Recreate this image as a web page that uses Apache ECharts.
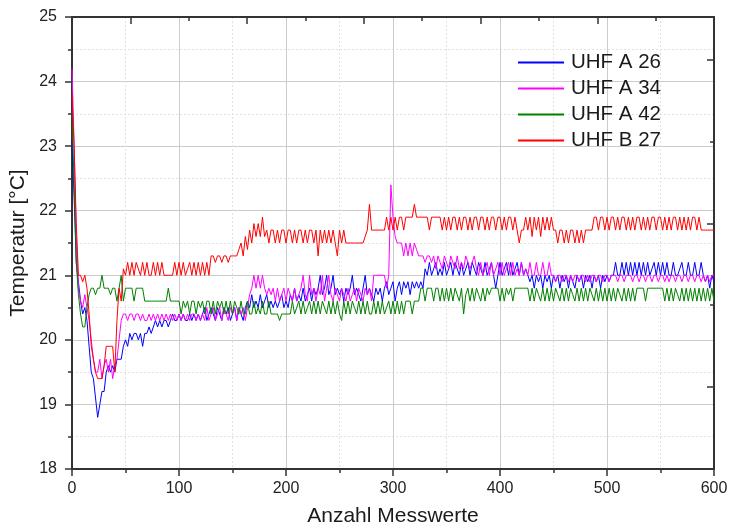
<!DOCTYPE html>
<html>
<head>
<meta charset="utf-8">
<script src="https://cdn.jsdelivr.net/npm/echarts@6/dist/echarts.min.js"></script>
<style>
  html, body { margin: 0; padding: 0; background: #fff; }
  #chart { width: 730px; height: 526px; }
</style>
</head>
<body>
<div id="chart"></div>
<script>
// readings, one value every 2nd measurement (x = 0, 2, 4 ... 600)
var uhfA26 = [
  23.1,22.2,21.2,20.9,20.6,20.4,20.5,20.3,19.9,19.5,19.4,19.1,18.8,19.0,19.2,19.2,19.5,19.6,19.5,19.6,19.5,19.7,19.7,19.7,19.9,
  20.0,19.9,20.1,20.0,20.1,20.1,20.0,20.1,19.9,20.1,20.1,20.2,20.1,20.2,20.3,20.2,20.3,20.2,20.3,20.3,20.2,20.3,20.4,20.3,20.3,
  20.4,20.3,20.4,20.3,20.3,20.4,20.3,20.4,20.3,20.4,20.3,20.4,20.5,20.3,20.4,20.5,20.4,20.3,20.5,20.4,20.3,20.5,20.4,20.5,20.3,
  20.4,20.5,20.3,20.5,20.4,20.3,20.5,20.6,20.5,20.7,20.5,20.6,20.5,20.7,20.5,20.6,20.7,20.5,20.6,20.5,20.6,20.5,20.6,20.7,20.5,
  20.6,20.5,20.7,20.6,20.8,20.6,20.7,20.6,20.8,20.6,20.7,20.8,20.6,20.8,20.7,20.8,21.0,20.7,20.8,21.0,20.7,20.8,21.0,20.7,20.8,
  20.7,20.8,20.6,20.8,20.7,20.8,21.0,20.7,20.8,20.7,20.6,20.8,21.0,20.7,20.8,20.7,20.6,20.8,20.7,20.8,20.6,20.8,20.9,20.7,20.8,
  20.9,20.6,20.8,20.9,20.7,20.9,20.8,20.9,20.7,20.9,20.8,20.9,20.8,20.9,20.8,21.1,21.0,21.2,21.0,21.1,21.2,21.0,21.1,21.0,21.2,
  21.0,21.1,21.2,21.0,21.2,21.1,21.0,21.2,21.0,21.1,21.2,21.0,21.2,21.1,21.0,21.2,21.1,21.0,21.2,21.0,21.1,21.2,21.0,20.8,21.0,
  21.2,21.0,21.1,21.2,21.0,21.2,21.0,21.1,21.2,21.0,21.2,21.0,21.1,21.0,20.9,21.0,20.8,21.0,20.9,21.0,20.8,21.0,20.9,21.0,20.8,
  21.0,20.9,21.0,20.8,21.0,20.9,21.0,20.8,21.0,20.9,20.8,21.0,20.9,21.0,20.8,21.0,20.9,21.0,20.8,21.0,20.9,21.0,20.8,21.0,20.9,
  21.0,20.9,21.0,21.0,21.2,21.0,21.0,21.2,21.0,21.2,21.0,21.2,21.0,21.2,21.0,21.2,21.0,21.2,21.0,21.2,21.0,21.1,21.2,21.0,21.2,
  21.0,21.2,21.0,21.2,21.0,21.0,21.2,21.0,21.0,21.1,21.2,21.0,21.0,21.2,21.0,21.0,21.2,21.0,21.0,21.2,21.0,20.9,21.0,20.8,21.0,
  20.9
];

var uhfA34 = [
  24.2,23.0,21.6,20.8,20.6,20.5,20.7,20.5,20.3,20.0,19.7,19.5,19.5,19.7,19.4,19.6,19.7,19.5,19.7,19.4,19.6,19.7,20.0,20.3,20.4,
  20.4,20.3,20.4,20.4,20.3,20.4,20.4,20.3,20.4,20.3,20.3,20.4,20.3,20.4,20.3,20.4,20.3,20.4,20.3,20.4,20.3,20.4,20.3,20.4,20.3,
  20.4,20.3,20.4,20.3,20.4,20.3,20.4,20.4,20.3,20.4,20.3,20.4,20.3,20.5,20.3,20.4,20.5,20.3,20.4,20.5,20.3,20.5,20.4,20.3,20.5,
  20.4,20.5,20.3,20.5,20.4,20.5,20.3,20.5,20.7,20.8,21.0,20.8,21.0,20.8,21.0,20.8,20.7,20.8,20.7,20.8,20.6,20.8,20.6,20.7,20.8,
  20.6,20.8,20.7,20.6,20.8,20.6,20.7,20.8,21.0,20.7,20.6,21.0,20.7,20.8,20.6,20.8,20.7,21.0,20.6,20.8,21.0,20.7,20.6,20.8,20.7,
  20.6,20.8,20.7,20.6,20.8,20.6,20.7,20.8,20.6,20.8,20.7,20.6,20.8,20.7,20.8,20.6,21.0,21.0,21.0,21.0,21.0,21.0,20.8,21.0,22.4,
  21.9,21.6,21.5,21.5,21.5,21.3,21.5,21.3,21.5,21.3,21.5,21.4,21.3,21.3,21.3,21.2,21.3,21.3,21.2,21.3,21.1,21.3,21.2,21.1,21.3,
  21.2,21.1,21.3,21.2,21.1,21.3,21.1,21.2,21.1,21.3,21.2,21.1,21.2,21.3,21.1,21.0,21.2,21.0,21.1,21.2,21.0,21.2,21.0,21.1,21.2,
  21.0,21.2,21.0,21.1,21.2,21.0,21.2,21.0,21.1,21.0,21.2,21.0,21.1,21.0,21.2,21.0,21.0,21.2,21.0,21.0,21.2,21.0,21.0,21.2,21.0,
  21.0,20.9,21.0,21.0,20.9,21.0,21.0,20.9,21.0,20.9,21.0,21.0,20.9,21.0,21.0,20.9,21.0,20.9,21.0,21.0,20.9,21.0,21.0,20.9,21.0,
  21.0,20.9,21.0,21.0,21.0,20.9,21.0,21.0,20.9,21.0,21.0,21.0,20.9,21.0,21.0,20.9,21.0,21.0,20.9,21.0,21.0,20.9,21.0,21.0,20.9,
  21.0,21.0,20.9,21.0,20.9,21.0,21.0,20.9,21.0,21.0,20.9,21.0,21.0,20.9,21.0,21.0,20.9,21.0,21.0,20.9,21.0,20.9,21.0,20.9,21.0,
  21.0
];

var uhfA42 = [
  23.5,22.4,21.2,20.7,20.4,20.2,20.2,20.5,20.7,20.8,20.8,20.7,20.8,20.8,21.0,20.8,20.8,20.8,20.7,20.8,20.8,20.6,20.8,21.0,20.6,
  20.8,20.8,20.8,20.8,20.6,20.8,20.8,20.8,20.8,20.6,20.6,20.6,20.6,20.6,20.6,20.6,20.6,20.6,20.6,20.6,20.8,20.6,20.6,20.6,20.6,
  20.6,20.4,20.6,20.5,20.6,20.4,20.6,20.6,20.4,20.6,20.5,20.6,20.4,20.6,20.6,20.4,20.6,20.4,20.6,20.5,20.6,20.4,20.6,20.4,20.6,
  20.4,20.6,20.5,20.4,20.6,20.4,20.4,20.6,20.4,20.4,20.6,20.4,20.5,20.4,20.6,20.4,20.4,20.6,20.4,20.4,20.4,20.4,20.3,20.4,20.4,
  20.4,20.4,20.4,20.6,20.4,20.5,20.6,20.4,20.6,20.4,20.5,20.6,20.4,20.6,20.4,20.6,20.4,20.6,20.5,20.4,20.6,20.4,20.6,20.4,20.6,
  20.4,20.3,20.6,20.4,20.6,20.4,20.6,20.5,20.4,20.6,20.4,20.6,20.4,20.6,20.4,20.4,20.6,20.4,20.6,20.4,20.6,20.4,20.5,20.6,20.4,
  20.6,20.4,20.6,20.4,20.6,20.4,20.6,20.6,20.6,20.4,20.6,20.6,20.6,20.8,20.8,20.6,20.8,20.8,20.8,20.6,20.8,20.8,20.6,20.8,20.6,
  20.8,20.6,20.8,20.6,20.8,20.7,20.6,20.8,20.4,20.7,20.8,20.6,20.8,20.6,20.8,20.7,20.6,20.8,20.6,20.8,20.7,20.8,20.8,20.8,20.8,
  20.6,20.8,20.6,20.8,20.7,20.8,20.6,20.8,20.8,20.8,20.8,20.8,20.8,20.8,20.6,20.8,20.6,20.8,20.7,20.6,20.8,20.6,20.8,20.6,20.8,
  20.6,20.8,20.7,20.6,20.8,20.6,20.8,20.6,20.8,20.7,20.6,20.8,20.6,20.8,20.6,20.8,20.6,20.8,20.7,20.6,20.8,20.6,20.8,20.6,20.8,
  20.6,20.8,20.6,20.8,20.6,20.8,20.7,20.6,20.8,20.6,20.8,20.6,20.8,20.6,20.8,20.8,20.8,20.8,20.6,20.8,20.8,20.8,20.8,20.8,20.8,
  20.8,20.8,20.6,20.8,20.6,20.8,20.6,20.8,20.7,20.6,20.8,20.6,20.8,20.6,20.8,20.6,20.8,20.6,20.8,20.6,20.8,20.6,20.8,20.6,20.8,
  20.6
];

var uhfB27 = [
  23.8,23.0,21.8,21.0,21.0,20.9,21.0,20.8,20.4,19.9,19.7,19.5,19.4,19.4,19.4,19.6,19.9,19.9,19.9,19.9,19.5,20.3,20.8,20.6,21.1,
  21.0,21.2,21.0,21.2,21.0,21.2,21.1,21.0,21.2,21.0,21.2,21.0,21.0,21.2,21.0,21.2,21.0,21.2,21.0,21.0,21.0,21.0,21.0,21.2,21.0,
  21.2,21.0,21.2,21.0,21.1,21.2,21.0,21.2,21.0,21.2,21.0,21.2,21.0,21.2,21.0,21.3,21.3,21.2,21.3,21.3,21.2,21.3,21.3,21.2,21.3,
  21.3,21.3,21.3,21.4,21.5,21.3,21.6,21.4,21.7,21.5,21.8,21.6,21.8,21.6,21.9,21.6,21.7,21.5,21.7,21.7,21.5,21.7,21.5,21.7,21.7,
  21.5,21.7,21.7,21.5,21.7,21.5,21.7,21.7,21.5,21.7,21.5,21.7,21.7,21.5,21.7,21.3,21.7,21.5,21.7,21.5,21.7,21.5,21.7,21.5,21.3,
  21.7,21.5,21.7,21.5,21.5,21.5,21.5,21.5,21.5,21.5,21.5,21.5,21.6,21.7,22.1,21.7,21.7,21.7,21.7,21.7,21.7,21.7,21.9,21.7,21.9,
  21.7,21.9,21.7,21.9,21.9,21.7,21.9,21.9,21.9,21.9,22.1,21.9,21.9,21.9,21.9,21.9,21.9,21.7,21.9,21.9,21.9,21.9,21.9,21.7,21.9,
  21.7,21.9,21.7,21.9,21.9,21.7,21.9,21.7,21.9,21.9,21.7,21.9,21.7,21.9,21.9,21.7,21.9,21.9,21.7,21.9,21.7,21.9,21.9,21.7,21.9,
  21.9,21.7,21.9,21.7,21.9,21.9,21.7,21.9,21.7,21.5,21.7,21.7,21.9,21.7,21.9,21.6,21.9,21.7,21.9,21.6,21.9,21.7,21.9,21.7,21.9,
  21.7,21.7,21.5,21.7,21.7,21.5,21.7,21.5,21.7,21.7,21.5,21.7,21.5,21.7,21.5,21.7,21.7,21.7,21.7,21.9,21.9,21.7,21.9,21.9,21.7,
  21.9,21.7,21.9,21.9,21.7,21.9,21.7,21.9,21.9,21.7,21.9,21.7,21.9,21.7,21.9,21.9,21.7,21.9,21.7,21.9,21.7,21.9,21.9,21.7,21.9,
  21.9,21.7,21.9,21.7,21.9,21.7,21.9,21.9,21.7,21.9,21.7,21.9,21.7,21.9,21.7,21.9,21.9,21.7,21.9,21.7,21.7,21.7,21.7,21.7,21.7,
  21.7
];

var seriesNames = ['UHF A 26', 'UHF A 34', 'UHF A 42', 'UHF B 27'];
var seriesColors = ['#0000ff', '#ff00ff', '#008000', '#ff0000'];
var STEP = 2;

var FONT = '"Liberation Sans", Arial, sans-serif';
var AXIS_COLOR = '#333';

function toPoints(values) {
	var pts = [];
	for (var i = 0; i < values.length; i++) {
		pts.push([i * STEP, values[i]]);
	}
	return pts;
}

// mirror axis on top / right, only for the frame and inner ticks
function mirrorAxis(pos, max, ticks, len, showLine) {
	return {
		type: 'value', position: pos, min: 0, max: max,
		axisLine: { show: showLine, onZero: false, lineStyle: { color: AXIS_COLOR, width: 2 } },
		axisTick: { show: true, inside: true, length: len, customValues: ticks,
			lineStyle: { color: AXIS_COLOR, width: 1.5 } },
		axisLabel: { show: false },
		splitLine: { show: false }
	};
}

var chart = echarts.init(document.getElementById('chart'));

var lines = [uhfA26, uhfA34, uhfA42, uhfB27].map(function(values, k) {
	return {
		name: seriesNames[k],
		type: 'line',
		data: toPoints(values),
		xAxisIndex: 0,
		yAxisIndex: 0,
		symbol: 'none',
		color: seriesColors[k],
		lineStyle: { width: 1, color: seriesColors[k] }
	};
});

var option = {
	animation: false,
	backgroundColor: '#fff',
	textStyle: { fontFamily: FONT },
	grid: { left: 72, top: 17, right: 16, bottom: 57, containLabel: false, outerBoundsMode: 'none' },
	legend: {
		orient: 'vertical',
		left: 518, top: 52,
		padding: 0,
		icon: 'rect',
		itemWidth: 46, itemHeight: 2, itemGap: 5,
		textStyle: { fontSize: 20.5, color: '#1a1a1a', lineHeight: 20, fontFamily: FONT, padding: [0, 0, 0, 2] },
		data: seriesNames
	},
	xAxis: [{
		type: 'value', position: 'bottom', min: 0, max: 600, interval: 100,
		name: 'Anzahl Messwerte', nameLocation: 'middle', nameGap: 37,
		nameTextStyle: { fontSize: 21, color: '#1a1a1a', fontFamily: FONT },
		axisLine: { show: true, onZero: false, lineStyle: { color: AXIS_COLOR, width: 2 } },
		axisTick: { show: true, length: 7, lineStyle: { color: AXIS_COLOR, width: 1.5 } },
		minorTick: { show: true, splitNumber: 2, length: 4, lineStyle: { color: AXIS_COLOR, width: 1.5 } },
		axisLabel: { fontSize: 16, color: '#222', margin: 12, fontFamily: FONT },
		splitLine: { show: true, lineStyle: { color: '#cccccc', width: 1 } },
		minorSplitLine: { show: true, lineStyle: { color: '#e2e2e2', width: 1, type: [2, 2] } }
	},
		mirrorAxis('top', 11, [1, 3, 5, 7, 9], 7, true),
		mirrorAxis('top', 11, [2, 4, 6, 8, 10], 4, false)
	],
	yAxis: [{
		type: 'value', position: 'left', min: 18, max: 25, interval: 1,
		name: 'Temperatur [°C]', nameLocation: 'middle', nameGap: 36,
		nameTextStyle: { fontSize: 21, color: '#1a1a1a', fontFamily: FONT },
		axisLine: { show: true, onZero: false, lineStyle: { color: AXIS_COLOR, width: 2 } },
		axisTick: { show: true, length: 7, lineStyle: { color: AXIS_COLOR, width: 1.5 } },
		minorTick: { show: true, splitNumber: 2, length: 4, lineStyle: { color: AXIS_COLOR, width: 1.5 } },
		axisLabel: { fontSize: 16, color: '#222', margin: 15, fontFamily: FONT },
		splitLine: { show: true, lineStyle: { color: '#cccccc', width: 1 } },
		minorSplitLine: { show: true, lineStyle: { color: '#e2e2e2', width: 1, type: [2, 2] } }
	},
		mirrorAxis('right', 5.52, [1, 3, 5], 7, true),
		mirrorAxis('right', 5.52, [2, 4], 4, false)
	],
	series: lines
};

chart.setOption(option);
</script>
</body>
</html>
